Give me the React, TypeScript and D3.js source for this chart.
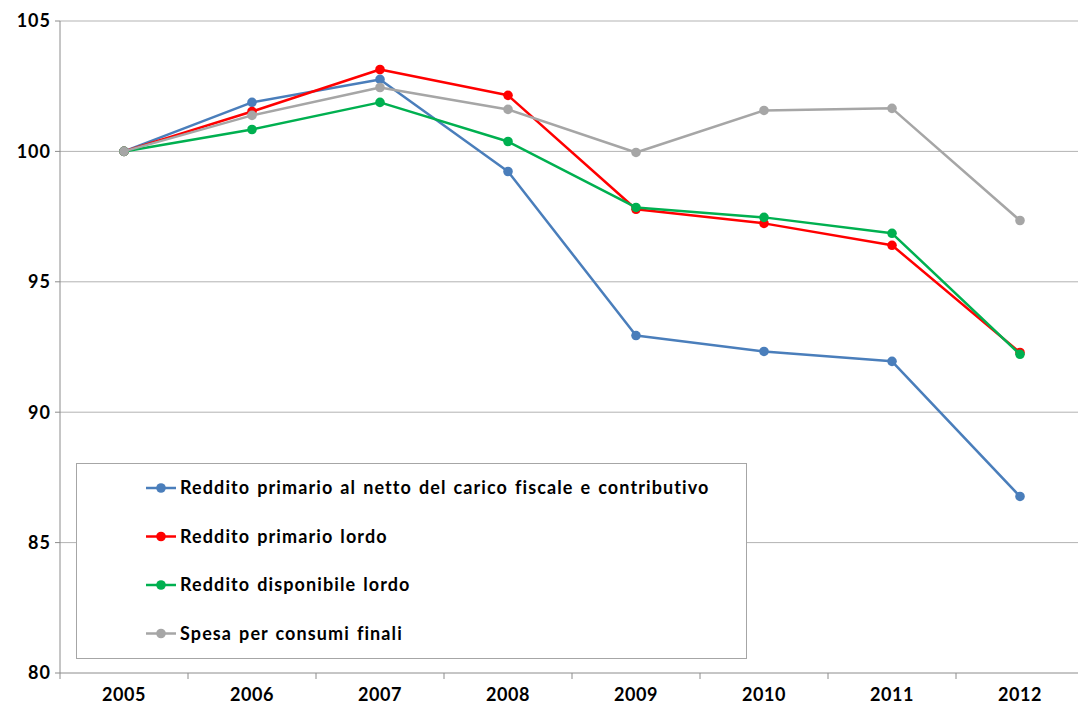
import React from 'react'
import * as d3 from 'd3'

const years = ['2005', '2006', '2007', '2008', '2009', '2010', '2011', '2012']
const nettoFiscale = [100, 101.88, 102.76, 99.23, 92.94, 92.33, 91.95, 86.77]
const primarioLordo = [100, 101.53, 103.14, 102.15, 97.78, 97.24, 96.4, 92.29]
const disponibileLordo = [100, 100.84, 101.88, 100.38, 97.85, 97.47, 96.86, 92.22]
const spesaConsumi = [100, 101.38, 102.45, 101.61, 99.96, 101.57, 101.65, 97.35]
const yTicks = [80, 85, 90, 95, 100, 105]

const series = [
  { name: 'Reddito primario al netto del carico fiscale e contributivo', color: '#4a7ebb', values: nettoFiscale },
  { name: 'Reddito primario lordo', color: '#ff0000', values: primarioLordo },
  { name: 'Reddito disponibile lordo', color: '#00b050', values: disponibileLordo },
  { name: 'Spesa per consumi finali', color: '#a6a6a6', values: spesaConsumi },
]

const width = 1078
const height = 708
const margin = { top: 21, right: -6, bottom: 35, left: 60 }
const font = 'Lato, "Open Sans", sans-serif'

export default function App() {
  const x = d3.scaleBand<string>()
    .domain(years)
    .range([margin.left, width - margin.right])
  const y = d3.scaleLinear()
    .domain([80, 105])
    .range([height - margin.bottom, margin.top])

  const line = d3.line<number>()
    .x((d, i) => (x(years[i]) as number) + x.bandwidth() / 2)
    .y(d => y(d))

  const plotRight = width - margin.right
  const bottom = y(80)

  return (
    <svg width={width} height={height} style={{ position: 'absolute', left: 0, top: 0, background: '#fff' }}>
      <g>
        {yTicks.map(t => (
          <g key={t}>
            {t > 80 && <line x1={margin.left} x2={plotRight} y1={y(t)} y2={y(t)} stroke="#b3b3b3" strokeWidth={1} />}
            <line x1={margin.left - 5} x2={margin.left} y1={y(t)} y2={y(t)} stroke="#8c8c8c" />
            <text x={margin.left - 9} y={y(t)} dy="0.35em" textAnchor="end" fontFamily={font} fontWeight="bold" fontSize={18} letterSpacing={1} fill="#000">{t}</text>
          </g>
        ))}
        <line x1={margin.left} x2={margin.left} y1={margin.top} y2={bottom} stroke="#8c8c8c" />
        <line x1={margin.left} x2={plotRight} y1={bottom} y2={bottom} stroke="#8c8c8c" />
        {years.map((yr, i) => (
          <g key={yr}>
            <line x1={(x(yr) as number)} x2={(x(yr) as number)} y1={bottom} y2={bottom + 6} stroke="#8c8c8c" />
            <text x={(x(yr) as number) + x.bandwidth() / 2} y={bottom + 28} textAnchor="middle" fontFamily={font} fontWeight="bold" fontSize={18} letterSpacing={0.6} fill="#000">{yr}</text>
          </g>
        ))}
      </g>
      {series.map(s => (
        <g key={s.name}>
          <path d={line(s.values) || ''} fill="none" stroke={s.color} strokeWidth={2.5} strokeLinejoin="round" />
          {s.values.map((v, i) => (
            <circle key={i} cx={(x(years[i]) as number) + x.bandwidth() / 2} cy={y(v)} r={4.8} fill={s.color} />
          ))}
        </g>
      ))}
      <g>
        <rect x={76.5} y={463.5} width={670} height={195} fill="#fff" stroke="#a6a6a6" strokeWidth={1} />
        {series.map((s, i) => {
          const ly = 488 + i * 48.5
          return (
            <g key={s.name}>
              <line x1={146} x2={176} y1={ly} y2={ly} stroke={s.color} strokeWidth={2.5} />
              <circle cx={161} cy={ly} r={4.8} fill={s.color} />
              <text x={180} y={ly} dy="0.35em" fontFamily={font} fontWeight="bold" fontSize={18} letterSpacing={1.1} wordSpacing={1.5} fill="#000">{s.name}</text>
            </g>
          )
        })}
      </g>
    </svg>
  )
}
